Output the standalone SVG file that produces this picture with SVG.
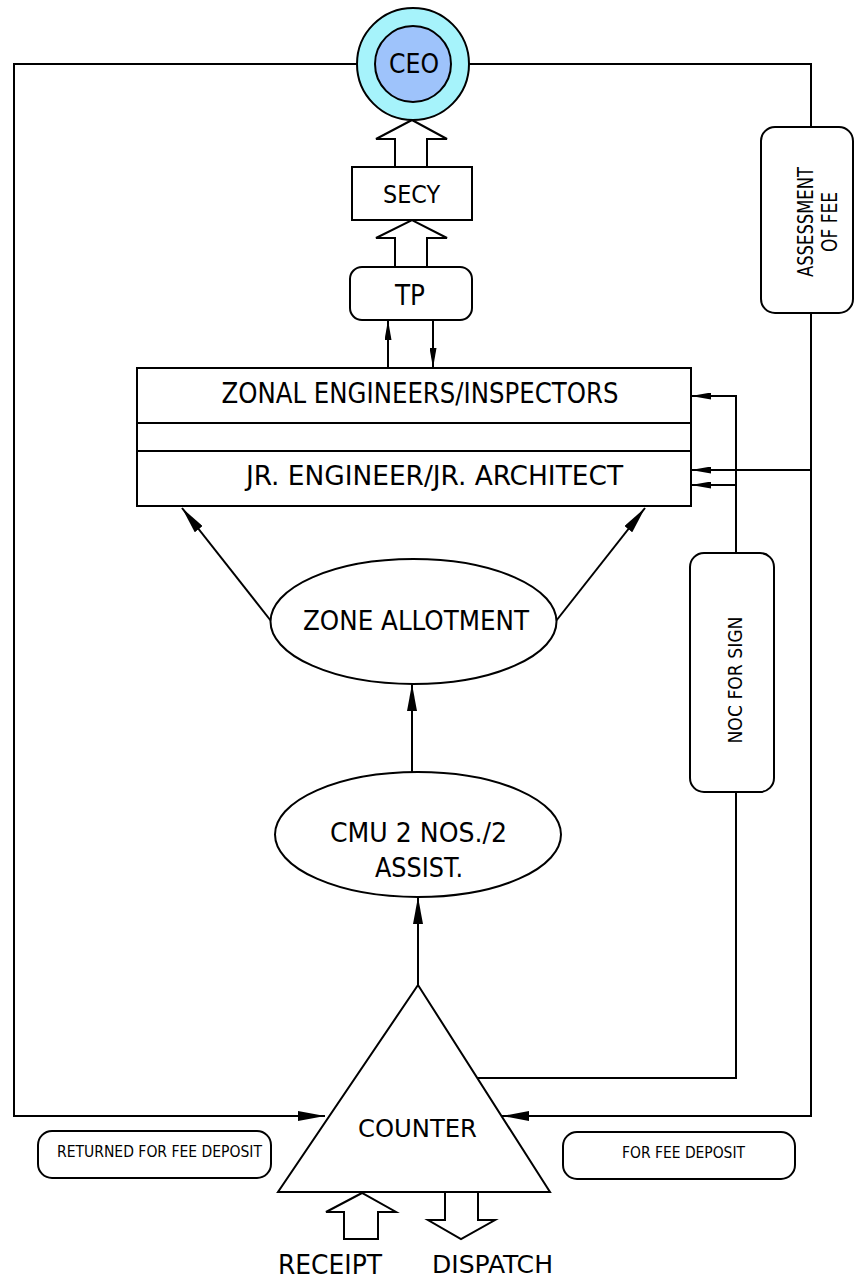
<svg xmlns="http://www.w3.org/2000/svg" width="854" height="1279" viewBox="0 0 854 1279">
<style>
.s{fill:#fff;stroke:#000;stroke-width:2}
.c{fill:none;stroke:#000;stroke-width:2}
text{font-family:"DejaVu Sans Condensed","DejaVu Sans",Verdana,sans-serif;fill:#000;text-anchor:middle}
</style>
<defs>
<marker id="big" viewBox="0 0 27 10" refX="27" refY="5" markerWidth="27" markerHeight="10" orient="auto" markerUnits="userSpaceOnUse"><path d="M0,0 L27,5 L0,10 z" fill="#000"/></marker>
<marker id="sm" viewBox="0 0 20 7" refX="20" refY="3.5" markerWidth="20" markerHeight="7" orient="auto" markerUnits="userSpaceOnUse"><path d="M0,0 L20,3.5 L0,7 z" fill="#000"/></marker>
</defs>
<rect width="854" height="1279" fill="#fff"/>
<g id="connectors">
<polyline class="c" points="357,64 14,64 14,1116 325,1116" marker-end="url(#big)"/>
<polyline class="c" points="469,64 811,64 811,127"/>
<polyline class="c" points="811,313 811,1116 502,1116" marker-end="url(#big)"/>
<line class="c" x1="811" y1="470" x2="691" y2="470" marker-end="url(#sm)"/>
<polyline class="c" points="736,553 736,396 691,396" marker-end="url(#sm)"/>
<line class="c" x1="736" y1="485" x2="691" y2="485" marker-end="url(#sm)"/>
<polyline class="c" points="736,792 736,1078 477,1078"/>
<line class="c" x1="388" y1="368" x2="388" y2="320" marker-end="url(#sm)"/>
<line class="c" x1="433" y1="320" x2="433" y2="368" marker-end="url(#sm)"/>
<line class="c" x1="271" y1="621" x2="182" y2="508" marker-end="url(#big)"/>
<line class="c" x1="556" y1="621" x2="645" y2="508" marker-end="url(#big)"/>
<line class="c" x1="412" y1="772" x2="412" y2="684" marker-end="url(#big)"/>
<line class="c" x1="418" y1="985" x2="418" y2="897" marker-end="url(#big)"/>
<polygon class="s" points="395,267 395,238 376,238 412,220 447,238 427,238 427,267"/>
<polygon class="s" points="395,167 395,139 376,139 412,120 447,139 427,139 427,167"/>
<polygon class="s" points="344,1239 344,1212 326,1212 362,1193 396,1212 378,1212 378,1239"/>
<polygon class="s" points="445,1192 445,1220 428,1220 461,1239 495,1220 478,1220 478,1192"/>
</g>
<g id="ceo">
<circle cx="413" cy="64" r="56" fill="#a6f3fb" stroke="#000" stroke-width="2"/>
<circle cx="413" cy="64" r="38" fill="#9ec3fb" stroke="#000" stroke-width="2"/>
<text x="414" y="73" font-size="27" textLength="50" lengthAdjust="spacingAndGlyphs">CEO</text>
</g>
<g id="secy">
<rect class="s" x="352" y="167" width="120" height="53"/>
<text x="411.5" y="203" font-size="25" textLength="57" lengthAdjust="spacingAndGlyphs">SECY</text>
</g>
<g id="tp">
<rect class="s" x="350" y="267" width="122" height="53" rx="12"/>
<text x="410" y="305" font-size="29" textLength="30" lengthAdjust="spacingAndGlyphs">TP</text>
</g>
<g id="engineers">
<rect class="s" x="137" y="368" width="554" height="138"/>
<line class="c" x1="137" y1="423" x2="691" y2="423"/>
<line class="c" x1="137" y1="451" x2="691" y2="451"/>
<text x="420" y="403" font-size="29" textLength="397" lengthAdjust="spacingAndGlyphs">ZONAL ENGINEERS/INSPECTORS</text>
<text x="434.5" y="485" font-size="26" textLength="377" lengthAdjust="spacingAndGlyphs">JR. ENGINEER/JR. ARCHITECT</text>
</g>
<g id="assessment">
<rect class="s" x="761" y="127" width="92" height="186" rx="14"/>
<text transform="translate(813,222) rotate(-90)" font-size="22" textLength="110" lengthAdjust="spacingAndGlyphs">ASSESSMENT</text>
<text transform="translate(837,222) rotate(-90)" font-size="22" textLength="60" lengthAdjust="spacingAndGlyphs">OF FEE</text>
</g>
<g id="zone">
<ellipse class="s" cx="413.5" cy="621.5" rx="143" ry="62.5"/>
<text x="416" y="630" font-size="27" textLength="226" lengthAdjust="spacingAndGlyphs">ZONE ALLOTMENT</text>
</g>
<g id="noc">
<rect class="s" x="690" y="553" width="84" height="239" rx="14"/>
<text transform="translate(742,680) rotate(-90)" font-size="20" textLength="127" lengthAdjust="spacingAndGlyphs">NOC FOR SIGN</text>
</g>
<g id="cmu">
<ellipse class="s" cx="418" cy="834.5" rx="143" ry="62.5"/>
<text x="418.5" y="842" font-size="26" textLength="177" lengthAdjust="spacingAndGlyphs">CMU 2 NOS./2</text>
<text x="419" y="877" font-size="26" textLength="88" lengthAdjust="spacingAndGlyphs">ASSIST.</text>
</g>
<g id="counter">
<polygon class="s" points="418,985 278,1192 550,1192"/>
<text x="417.5" y="1137" font-size="25" textLength="119" lengthAdjust="spacingAndGlyphs">COUNTER</text>
</g>
<g id="returned">
<rect class="s" x="38" y="1131" width="233" height="47" rx="14"/>
<text x="159.5" y="1157" font-size="16" textLength="205" lengthAdjust="spacingAndGlyphs">RETURNED FOR FEE DEPOSIT</text>
</g>
<g id="forfee">
<rect class="s" x="563" y="1132" width="232" height="47" rx="14"/>
<text x="683.5" y="1158" font-size="16" textLength="123" lengthAdjust="spacingAndGlyphs">FOR FEE DEPOSIT</text>
</g>
<g id="receipt">
<text x="330" y="1274" font-size="27" textLength="104" lengthAdjust="spacingAndGlyphs">RECEIPT</text>
</g>
<g id="dispatch">
<text x="492.5" y="1273" font-size="24" textLength="121" lengthAdjust="spacingAndGlyphs">DISPATCH</text>
</g>
</svg>
